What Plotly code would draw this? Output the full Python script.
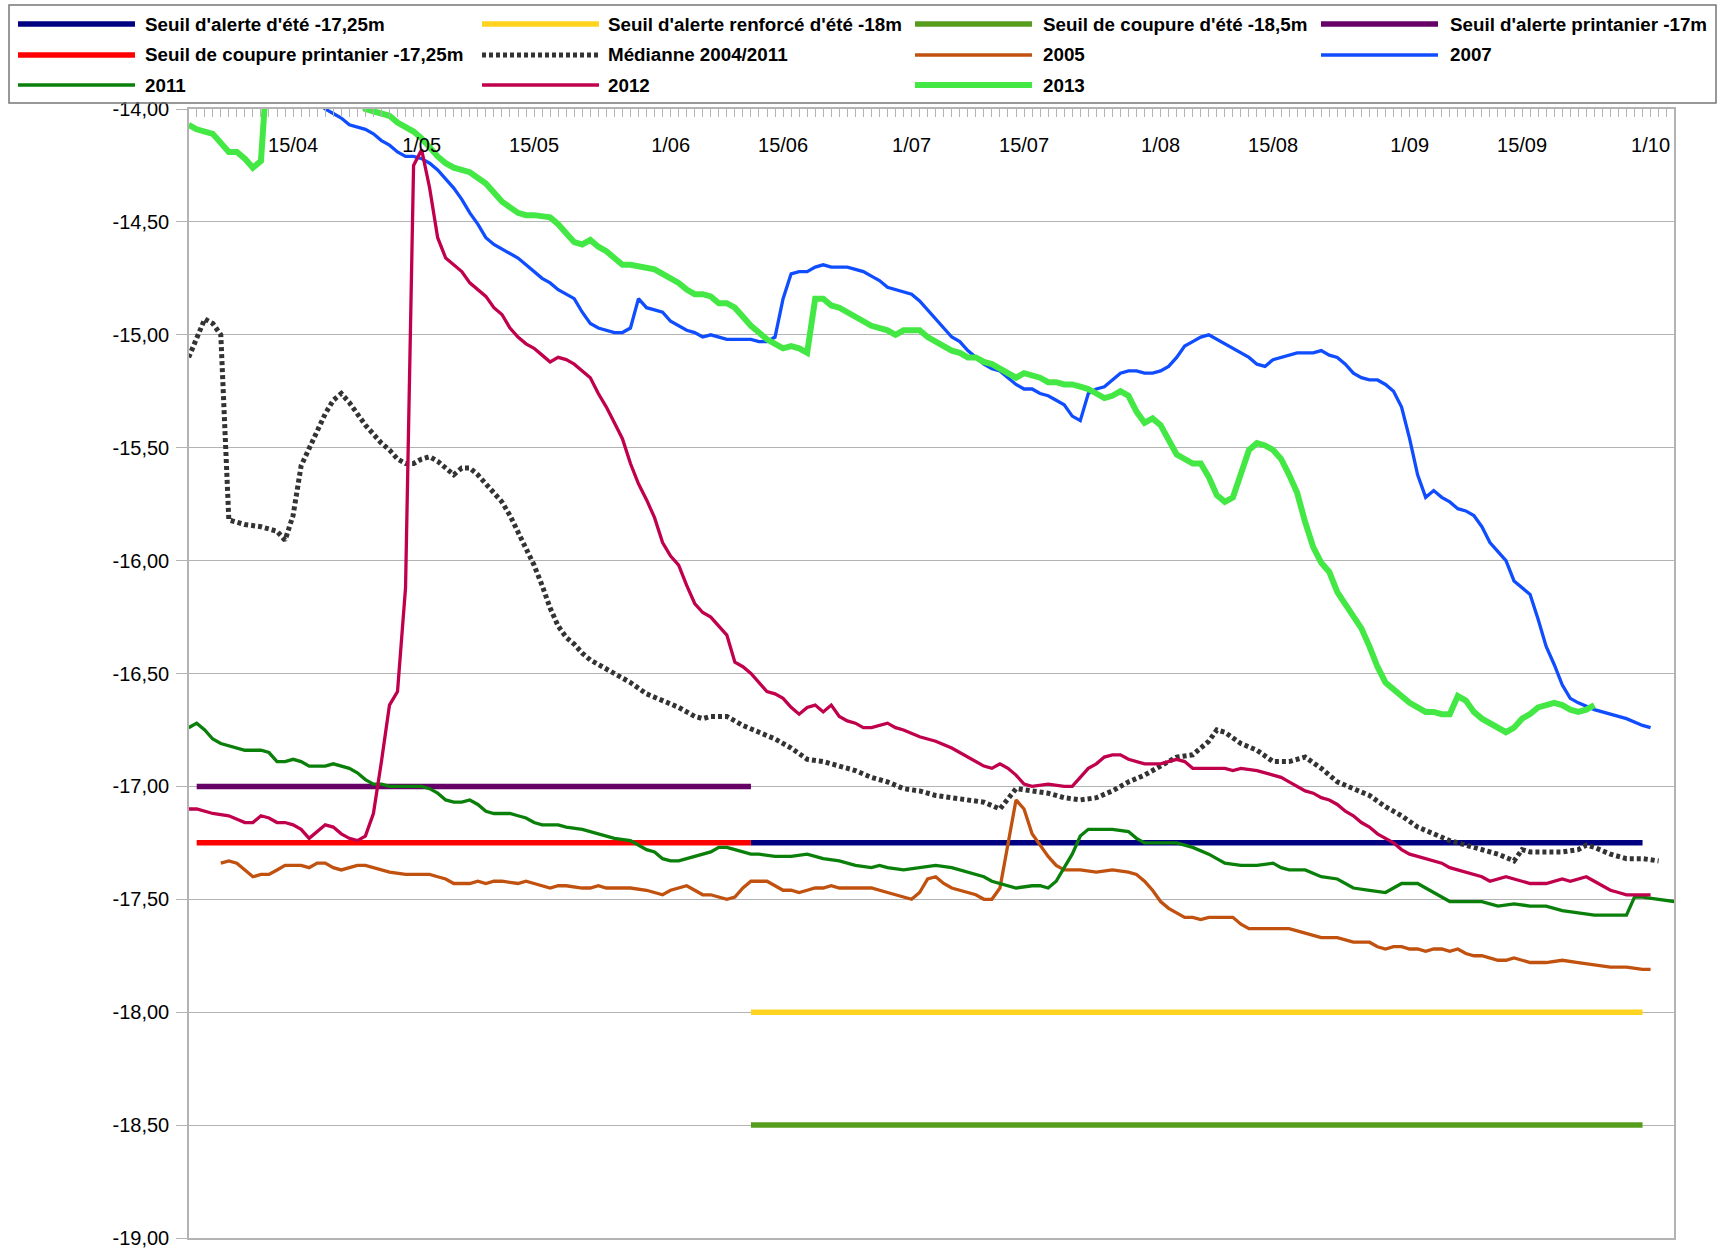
import plotly.graph_objects as go
import pandas as pd

# ---------------- data ----------------
BASE_DATE = pd.Timestamp("2013-04-01")  # day 0 of the season

tick_dates = ["2013-04-15", "2013-05-01", "2013-05-15", "2013-06-01", "2013-06-15", "2013-07-01",
              "2013-07-15", "2013-08-01", "2013-08-15", "2013-09-01", "2013-09-15", "2013-10-01"]
tick_labels = ["15/04", "1/05", "15/05", "1/06", "15/06", "1/07",
               "15/07", "1/08", "15/08", "1/09", "15/09", "1/10"]

y_tick_values = [-19.0, -18.5, -18.0, -17.5, -17.0, -16.5, -16.0, -15.5, -15.0, -14.5, -14.0]
y_tick_labels = ["-19,00", "-18,50", "-18,00", "-17,50", "-17,00", "-16,50",
                 "-16,00", "-15,50", "-15,00", "-14,50", "-14,00"]

# thresholds: name, value (m), first day, last day (days since 1 April)
threshold_names = ["Seuil d'alerte d'été -17,25m", "Seuil d'alerte renforcé d'été -18m",
                   "Seuil de coupure d'été -18,5m", "Seuil d'alerte printanier -17m",
                   "Seuil de coupure printanier -17,25m"]
threshold_values = [-17.25, -18.0, -18.5, -17.0, -17.25]
threshold_start = [71, 71, 71, 2, 2]
threshold_end = [182, 182, 182, 71, 71]
threshold_colors = ["#000080", "#ffd320", "#579d1c", "#660066", "#ff0000"]

# (day since 1 April, level in m)
mediane_2004_2011 = [(1,-15.10),(2,-15.02),(3,-14.93),(4,-14.95),(5,-15.00),(6,-15.82),(8,-15.84),(10,-15.85),
    (12,-15.87),(13,-15.91),(14,-15.80),(15,-15.58),(16,-15.50),(17,-15.42),(18,-15.35),(19,-15.29),(20,-15.26),
    (21,-15.30),(22,-15.35),(23,-15.40),(24,-15.44),(25,-15.48),(26,-15.51),(27,-15.55),(28,-15.57),(29,-15.57),
    (30,-15.55),(31,-15.54),(32,-15.56),(33,-15.59),(34,-15.62),(35,-15.59),(36,-15.59),(37,-15.62),(38,-15.66),
    (39,-15.70),(40,-15.74),(41,-15.80),(42,-15.87),(43,-15.95),(44,-16.02),(45,-16.11),(46,-16.21),(47,-16.29),
    (48,-16.34),(49,-16.37),(50,-16.41),(51,-16.44),(52,-16.46),(54,-16.50),(56,-16.54),(58,-16.59),(60,-16.62),
    (62,-16.65),(64,-16.69),(65,-16.70),(66,-16.69),(68,-16.69),(70,-16.73),(72,-16.76),(74,-16.79),(76,-16.83),
    (78,-16.88),(80,-16.89),(82,-16.91),(84,-16.93),(86,-16.96),(88,-16.98),(90,-17.01),(92,-17.02),(94,-17.04),
    (96,-17.05),(98,-17.06),(100,-17.07),(102,-17.10),(104,-17.01),(106,-17.02),(108,-17.03),(110,-17.05),
    (112,-17.06),(114,-17.05),(116,-17.02),(118,-16.98),(120,-16.95),(122,-16.91),(124,-16.87),(126,-16.86),
    (128,-16.80),(129,-16.75),(130,-16.76),(132,-16.81),(134,-16.84),(136,-16.89),(138,-16.89),(140,-16.87),
    (142,-16.92),(144,-16.98),(146,-17.01),(148,-17.04),(150,-17.09),(152,-17.13),(154,-17.18),(156,-17.21),
    (158,-17.24),(160,-17.26),(162,-17.28),(164,-17.30),(166,-17.33),(167,-17.28),(168,-17.29),(170,-17.29),
    (172,-17.29),(174,-17.28),(175,-17.26),(176,-17.27),(178,-17.30),(180,-17.32),(182,-17.32),(184,-17.33)]

annee_2005 = [(5,-17.34),(6,-17.33),(7,-17.34),(8,-17.37),(9,-17.40),(10,-17.39),(11,-17.39),(12,-17.37),
    (13,-17.35),(14,-17.35),(15,-17.35),(16,-17.36),(17,-17.34),(18,-17.34),(19,-17.36),(20,-17.37),(21,-17.36),
    (22,-17.35),(23,-17.35),(24,-17.36),(25,-17.37),(26,-17.38),(28,-17.39),(30,-17.39),(31,-17.39),(32,-17.40),
    (33,-17.41),(34,-17.43),(36,-17.43),(37,-17.42),(38,-17.43),(39,-17.42),(40,-17.42),(42,-17.43),(43,-17.42),
    (44,-17.43),(45,-17.44),(46,-17.45),(47,-17.44),(48,-17.44),(50,-17.45),(51,-17.45),(52,-17.44),(53,-17.45),
    (54,-17.45),(56,-17.45),(58,-17.46),(59,-17.47),(60,-17.48),(61,-17.46),(62,-17.45),(63,-17.44),(64,-17.46),
    (65,-17.48),(66,-17.48),(67,-17.49),(68,-17.50),(69,-17.49),(70,-17.45),(71,-17.42),(72,-17.42),(73,-17.42),
    (74,-17.44),(75,-17.46),(76,-17.46),(77,-17.47),(78,-17.46),(79,-17.45),(80,-17.45),(81,-17.44),(82,-17.45),
    (84,-17.45),(86,-17.45),(88,-17.47),(89,-17.48),(90,-17.49),(91,-17.50),(92,-17.47),(93,-17.41),(94,-17.40),
    (95,-17.43),(96,-17.45),(97,-17.46),(98,-17.47),(99,-17.48),(100,-17.50),(101,-17.50),(102,-17.45),
    (103,-17.25),(104,-17.06),(105,-17.10),(106,-17.21),(107,-17.26),(108,-17.31),(109,-17.35),(110,-17.37),
    (112,-17.37),(114,-17.38),(116,-17.37),(118,-17.38),(119,-17.39),(120,-17.42),(121,-17.46),(122,-17.51),
    (123,-17.54),(124,-17.56),(125,-17.58),(126,-17.58),(127,-17.59),(128,-17.58),(130,-17.58),(131,-17.58),
    (132,-17.61),(133,-17.63),(134,-17.63),(136,-17.63),(138,-17.63),(139,-17.64),(140,-17.65),(141,-17.66),
    (142,-17.67),(144,-17.67),(145,-17.68),(146,-17.69),(148,-17.69),(149,-17.71),(150,-17.72),(151,-17.71),
    (152,-17.71),(153,-17.72),(154,-17.72),(155,-17.73),(156,-17.72),(157,-17.72),(158,-17.73),(159,-17.72),
    (160,-17.74),(161,-17.75),(162,-17.75),(163,-17.76),(164,-17.77),(165,-17.77),(166,-17.76),(167,-17.77),
    (168,-17.78),(170,-17.78),(172,-17.77),(174,-17.78),(176,-17.79),(178,-17.80),(180,-17.80),(182,-17.81),
    (183,-17.81)]

annee_2007 = [(17,-13.97),(18,-14.00),(19,-14.02),(20,-14.04),(21,-14.07),(22,-14.08),(23,-14.09),(24,-14.11),
    (25,-14.14),(26,-14.16),(27,-14.19),(28,-14.21),(29,-14.21),(30,-14.22),(31,-14.24),(32,-14.27),(33,-14.31),
    (34,-14.35),(35,-14.40),(36,-14.46),(37,-14.51),(38,-14.57),(39,-14.60),(40,-14.62),(41,-14.64),(42,-14.66),
    (43,-14.69),(44,-14.72),(45,-14.75),(46,-14.77),(47,-14.80),(48,-14.82),(49,-14.84),(50,-14.90),(51,-14.95),
    (52,-14.97),(53,-14.98),(54,-14.99),(55,-14.99),(56,-14.97),(57,-14.84),(58,-14.88),(59,-14.89),(60,-14.90),
    (61,-14.94),(62,-14.96),(63,-14.98),(64,-14.99),(65,-15.01),(66,-15.00),(67,-15.01),(68,-15.02),(69,-15.02),
    (70,-15.02),(71,-15.02),(72,-15.03),(73,-15.03),(74,-15.01),(75,-14.84),(76,-14.73),(77,-14.72),(78,-14.72),
    (79,-14.70),(80,-14.69),(81,-14.70),(82,-14.70),(83,-14.70),(84,-14.71),(85,-14.72),(86,-14.74),(87,-14.76),
    (88,-14.79),(89,-14.80),(90,-14.81),(91,-14.82),(92,-14.85),(93,-14.89),(94,-14.93),(95,-14.97),(96,-15.01),
    (97,-15.03),(98,-15.07),(99,-15.10),(100,-15.13),(101,-15.15),(102,-15.16),(103,-15.19),(104,-15.22),
    (105,-15.24),(106,-15.24),(107,-15.26),(108,-15.27),(109,-15.29),(110,-15.31),(111,-15.36),(112,-15.38),
    (113,-15.26),(114,-15.24),(115,-15.23),(116,-15.20),(117,-15.17),(118,-15.16),(119,-15.16),(120,-15.17),
    (121,-15.17),(122,-15.16),(123,-15.14),(124,-15.10),(125,-15.05),(126,-15.03),(127,-15.01),(128,-15.00),
    (129,-15.02),(130,-15.04),(131,-15.06),(132,-15.08),(133,-15.10),(134,-15.13),(135,-15.14),(136,-15.11),
    (137,-15.10),(138,-15.09),(139,-15.08),(140,-15.08),(141,-15.08),(142,-15.07),(143,-15.09),(144,-15.10),
    (145,-15.13),(146,-15.17),(147,-15.19),(148,-15.20),(149,-15.20),(150,-15.22),(151,-15.25),(152,-15.32),
    (153,-15.46),(154,-15.62),(155,-15.72),(156,-15.69),(157,-15.72),(158,-15.74),(159,-15.77),(160,-15.78),
    (161,-15.80),(162,-15.85),(163,-15.92),(164,-15.96),(165,-16.00),(166,-16.09),(167,-16.12),(168,-16.15),
    (169,-16.26),(170,-16.38),(171,-16.46),(172,-16.55),(173,-16.61),(174,-16.63),(176,-16.66),(178,-16.68),
    (180,-16.70),(182,-16.73),(183,-16.74)]

annee_2011 = [(1,-16.74),(2,-16.72),(3,-16.75),(4,-16.79),(5,-16.81),(6,-16.82),(8,-16.84),(10,-16.84),(11,-16.85),
    (12,-16.89),(13,-16.89),(14,-16.88),(15,-16.89),(16,-16.91),(18,-16.91),(19,-16.90),(20,-16.91),(21,-16.92),
    (22,-16.94),(23,-16.97),(24,-16.99),(25,-16.99),(26,-17.00),(28,-17.00),(30,-17.00),(31,-17.01),(32,-17.03),
    (33,-17.06),(34,-17.07),(35,-17.07),(36,-17.06),(37,-17.08),(38,-17.11),(39,-17.12),(40,-17.12),(41,-17.12),
    (42,-17.13),(43,-17.14),(44,-17.16),(45,-17.17),(46,-17.17),(47,-17.17),(48,-17.18),(50,-17.19),(52,-17.21),
    (53,-17.22),(54,-17.23),(56,-17.24),(57,-17.26),(58,-17.28),(59,-17.29),(60,-17.32),(61,-17.33),(62,-17.33),
    (63,-17.32),(64,-17.31),(65,-17.30),(66,-17.29),(67,-17.27),(68,-17.27),(69,-17.28),(70,-17.29),(71,-17.30),
    (72,-17.30),(74,-17.31),(76,-17.31),(78,-17.30),(80,-17.32),(82,-17.33),(84,-17.35),(86,-17.36),(87,-17.35),
    (88,-17.36),(90,-17.37),(92,-17.36),(94,-17.35),(96,-17.36),(98,-17.38),(100,-17.40),(101,-17.42),(102,-17.43),
    (104,-17.45),(106,-17.44),(107,-17.44),(108,-17.45),(109,-17.42),(110,-17.36),(111,-17.30),(112,-17.22),
    (113,-17.19),(114,-17.19),(116,-17.19),(118,-17.20),(119,-17.23),(120,-17.25),(122,-17.25),(124,-17.25),
    (126,-17.27),(128,-17.30),(130,-17.34),(132,-17.35),(134,-17.35),(136,-17.34),(137,-17.36),(138,-17.37),
    (140,-17.37),(142,-17.40),(144,-17.41),(146,-17.45),(148,-17.46),(150,-17.47),(152,-17.43),(154,-17.43),
    (156,-17.47),(158,-17.51),(160,-17.51),(162,-17.51),(164,-17.53),(166,-17.52),(168,-17.53),(170,-17.53),
    (172,-17.55),(174,-17.56),(176,-17.57),(178,-17.57),(180,-17.57),(181,-17.49),(182,-17.49),(184,-17.50),
    (186,-17.51)]

annee_2012 = [(1,-17.10),(2,-17.10),(4,-17.12),(6,-17.13),(8,-17.16),(9,-17.16),(10,-17.13),(11,-17.14),
    (12,-17.16),(13,-17.16),(14,-17.17),(15,-17.19),(16,-17.23),(17,-17.20),(18,-17.17),(19,-17.18),(20,-17.21),
    (21,-17.23),(22,-17.24),(23,-17.22),(24,-17.12),(25,-16.89),(26,-16.64),(27,-16.58),(28,-16.12),(29,-14.25),
    (30,-14.18),(31,-14.35),(32,-14.57),(33,-14.66),(34,-14.69),(35,-14.72),(36,-14.77),(37,-14.80),(38,-14.83),
    (39,-14.88),(40,-14.91),(41,-14.97),(42,-15.01),(43,-15.04),(44,-15.06),(45,-15.09),(46,-15.12),(47,-15.10),
    (48,-15.11),(49,-15.13),(50,-15.16),(51,-15.19),(52,-15.26),(53,-15.32),(54,-15.39),(55,-15.46),(56,-15.57),
    (57,-15.66),(58,-15.73),(59,-15.81),(60,-15.92),(61,-15.98),(62,-16.02),(63,-16.11),(64,-16.19),(65,-16.23),
    (66,-16.25),(67,-16.29),(68,-16.33),(69,-16.45),(70,-16.47),(71,-16.50),(72,-16.54),(73,-16.58),(74,-16.59),
    (75,-16.61),(76,-16.65),(77,-16.68),(78,-16.65),(79,-16.64),(80,-16.67),(81,-16.64),(82,-16.69),(83,-16.71),
    (84,-16.72),(85,-16.74),(86,-16.74),(87,-16.73),(88,-16.72),(89,-16.74),(90,-16.75),(92,-16.78),(94,-16.80),
    (96,-16.83),(98,-16.87),(100,-16.91),(101,-16.92),(102,-16.90),(103,-16.92),(104,-16.95),(105,-16.99),
    (106,-17.00),(108,-16.99),(110,-17.00),(111,-17.00),(112,-16.96),(113,-16.92),(114,-16.90),(115,-16.87),
    (116,-16.86),(117,-16.86),(118,-16.88),(120,-16.90),(122,-16.90),(124,-16.88),(125,-16.89),(126,-16.92),
    (128,-16.92),(130,-16.92),(131,-16.93),(132,-16.92),(134,-16.93),(135,-16.94),(136,-16.95),(137,-16.96),
    (138,-16.98),(139,-17.00),(140,-17.02),(141,-17.03),(142,-17.05),(143,-17.06),(144,-17.08),(145,-17.11),
    (146,-17.13),(147,-17.16),(148,-17.18),(149,-17.21),(150,-17.23),(151,-17.25),(152,-17.28),(153,-17.30),
    (154,-17.31),(155,-17.32),(156,-17.33),(157,-17.34),(158,-17.36),(159,-17.37),(160,-17.38),(162,-17.40),
    (163,-17.42),(164,-17.41),(165,-17.40),(166,-17.41),(168,-17.43),(170,-17.43),(171,-17.42),(172,-17.41),
    (173,-17.42),(174,-17.41),(175,-17.40),(176,-17.42),(177,-17.44),(178,-17.46),(179,-17.47),(180,-17.48),
    (181,-17.48),(182,-17.48),(183,-17.48)]

annee_2013 = [(1,-14.07),(2,-14.09),(4,-14.11),(6,-14.19),(7,-14.19),(8,-14.22),(9,-14.26),(10,-14.23),
    (11,-13.70),(21,-13.70),(22,-13.90),(23,-14.00),(24,-14.01),(26,-14.03),(27,-14.06),(28,-14.08),(29,-14.10),
    (30,-14.13),(31,-14.17),(32,-14.21),(33,-14.24),(34,-14.26),(36,-14.28),(38,-14.33),(40,-14.41),(42,-14.46),
    (43,-14.47),(44,-14.47),(46,-14.48),(47,-14.51),(48,-14.55),(49,-14.59),(50,-14.60),(51,-14.58),(52,-14.61),
    (53,-14.63),(54,-14.66),(55,-14.69),(56,-14.69),(58,-14.70),(59,-14.71),(60,-14.73),(61,-14.75),(62,-14.77),
    (63,-14.80),(64,-14.82),(65,-14.82),(66,-14.83),(67,-14.86),(68,-14.86),(69,-14.88),(70,-14.92),(71,-14.96),
    (72,-14.99),(73,-15.02),(74,-15.04),(75,-15.06),(76,-15.05),(77,-15.06),(78,-15.08),(79,-14.84),(80,-14.84),
    (81,-14.87),(82,-14.88),(83,-14.90),(84,-14.92),(85,-14.94),(86,-14.96),(88,-14.98),(89,-15.00),(90,-14.98),
    (92,-14.98),(93,-15.01),(94,-15.03),(95,-15.05),(96,-15.07),(97,-15.08),(98,-15.10),(99,-15.10),(100,-15.12),
    (101,-15.13),(102,-15.15),(103,-15.17),(104,-15.19),(105,-15.17),(106,-15.18),(107,-15.19),(108,-15.21),
    (109,-15.21),(110,-15.22),(111,-15.22),(112,-15.23),(113,-15.24),(114,-15.26),(115,-15.28),(116,-15.27),
    (117,-15.25),(118,-15.27),(119,-15.34),(120,-15.39),(121,-15.37),(122,-15.40),(123,-15.47),(124,-15.53),
    (125,-15.55),(126,-15.57),(127,-15.57),(128,-15.63),(129,-15.71),(130,-15.74),(131,-15.72),(132,-15.62),
    (133,-15.51),(134,-15.48),(135,-15.49),(136,-15.51),(137,-15.55),(138,-15.62),(139,-15.70),(140,-15.83),
    (141,-15.94),(142,-16.01),(143,-16.05),(144,-16.14),(145,-16.19),(146,-16.24),(147,-16.30),(148,-16.38),
    (149,-16.47),(150,-16.54),(151,-16.57),(152,-16.60),(153,-16.63),(154,-16.65),(155,-16.67),(156,-16.67),
    (157,-16.68),(158,-16.68),(159,-16.60),(160,-16.62),(161,-16.67),(162,-16.70),(163,-16.72),(164,-16.74),
    (165,-16.76),(166,-16.74),(167,-16.70),(168,-16.68),(169,-16.65),(170,-16.64),(171,-16.63),(172,-16.64),
    (173,-16.66),(174,-16.67),(175,-16.66),(176,-16.64)]

series_names = ["Médianne 2004/2011", "2005", "2007", "2011", "2012", "2013"]
series_data = [mediane_2004_2011, annee_2005, annee_2007, annee_2011, annee_2012, annee_2013]
series_colors = ["#333333", "#c0510e", "#0f4dff", "#0a800a", "#c0004c", "#44e844"]
series_widths = [5, 3.3, 3.3, 3.3, 3.3, 6]
series_dash = ["4px,3px", "solid", "solid", "solid", "solid", "solid"]


def to_dates(days):
    return [BASE_DATE + pd.Timedelta(days=float(d)) for d in days]


# ---------------- figure ----------------
W, H = 1729, 1252
ML, MR, MT, MB = 189, 55, 109, 14
PW, PH = W - ML - MR, H - MT - MB
FONT = "Liberation Sans, Arial, sans-serif"
X_RANGE = ["2013-04-02 01:00", "2013-10-03 22:00"]

fig = go.Figure()

for name, val, d0, d1, col in zip(threshold_names, threshold_values, threshold_start,
                                  threshold_end, threshold_colors):
    fig.add_trace(go.Scatter(x=to_dates([d0, d1]), y=[val, val], mode="lines", name=name,
                             line=dict(color=col, width=5.5), showlegend=False, hoverinfo="skip"))

for name, data, col, w, dsh in zip(series_names, series_data, series_colors, series_widths, series_dash):
    days = [p[0] for p in data]
    vals = [p[1] for p in data]
    fig.add_trace(go.Scatter(x=to_dates(days), y=vals, mode="lines", name=name,
                             line=dict(color=col, width=w, dash=dsh), showlegend=False))

# empty trace that carries the date-label axis (labels drawn just under the top axis line)
fig.add_trace(go.Scatter(x=[], y=[], xaxis="x2", yaxis="y", showlegend=False, hoverinfo="skip"))

# ---------------- legend box (drawn in the page, 4 columns) ----------------
def px_x(px):
    return (px - ML) / PW


def px_y(py):
    return (H - MB - py) / PH


legend_names = threshold_names + series_names
legend_colors = threshold_colors + series_colors
legend_widths = [5.5] * 5 + series_widths
legend_dash = ["solid"] * 5 + series_dash
col_line_x = [18, 482, 915, 1321]
col_text_x = [143, 606, 1041, 1448]
row_y = [24, 55, 85]
LINE_LEN = 117

shapes = [dict(type="rect", xref="paper", yref="paper", x0=px_x(9), x1=px_x(1716),
               y0=px_y(103), y1=px_y(5), line=dict(color="#777777", width=1.5),
               fillcolor="rgba(0,0,0,0)")]
annotations = []
for i, (nm, cl, wd, ds) in enumerate(zip(legend_names, legend_colors, legend_widths, legend_dash)):
    r, c = divmod(i, 4)
    yy = px_y(row_y[r])
    shapes.append(dict(type="line", xref="paper", yref="paper",
                       x0=px_x(col_line_x[c]), x1=px_x(col_line_x[c] + LINE_LEN), y0=yy, y1=yy,
                       line=dict(color=cl, width=wd, dash=ds)))
    annotations.append(dict(xref="paper", yref="paper", x=px_x(col_text_x[c]), y=yy, text=nm,
                            showarrow=False, xanchor="left", yanchor="middle",
                            font=dict(family=FONT, size=18.8, color="#000000", weight="bold")))

fig.update_layout(
    width=W, height=H,
    margin=dict(l=ML, r=MR, t=MT, b=MB, pad=0, autoexpand=False),
    paper_bgcolor="white", plot_bgcolor="white",
    showlegend=False,
    shapes=shapes, annotations=annotations,
    font=dict(family=FONT, size=20, color="#000000"),
    xaxis=dict(
        type="date", side="top", automargin=False,
        range=X_RANGE,
        tickvals=tick_dates, showticklabels=False,
        ticks="inside", ticklen=8, tickcolor="#b3b3b3", tickwidth=1,
        minor=dict(ticks="inside", ticklen=8, dtick=86400000, tick0="2013-04-01",
                   tickcolor="#b3b3b3", tickwidth=1, showgrid=False),
        showgrid=False, zeroline=False,
        showline=True, linecolor="#b3b3b3", linewidth=1.5, mirror=True,
    ),
    xaxis2=dict(
        type="date", side="top", overlaying="x", anchor="free", position=px_y(156),
        automargin=False, range=X_RANGE,
        tickvals=tick_dates, ticktext=tick_labels,
        ticks="", showline=False, showgrid=False, zeroline=False,
        tickfont=dict(family=FONT, size=20, color="#000000"),
    ),
    yaxis=dict(
        range=[-19, -14], automargin=False,
        tickvals=y_tick_values, ticktext=y_tick_labels,
        ticks="outside", ticklen=11, tickcolor="#b3b3b3", tickwidth=1.3,
        ticklabelstandoff=3,
        tickfont=dict(family=FONT, size=20, color="#000000"),
        showgrid=True, gridcolor="#b3b3b3", gridwidth=1.3,
        zeroline=False,
        showline=True, linecolor="#b3b3b3", linewidth=1.5, mirror=True,
    ),
)

fig.write_html("out.html", config={"displayModeBar": False},
               post_script="document.body.style.margin='0px';")
